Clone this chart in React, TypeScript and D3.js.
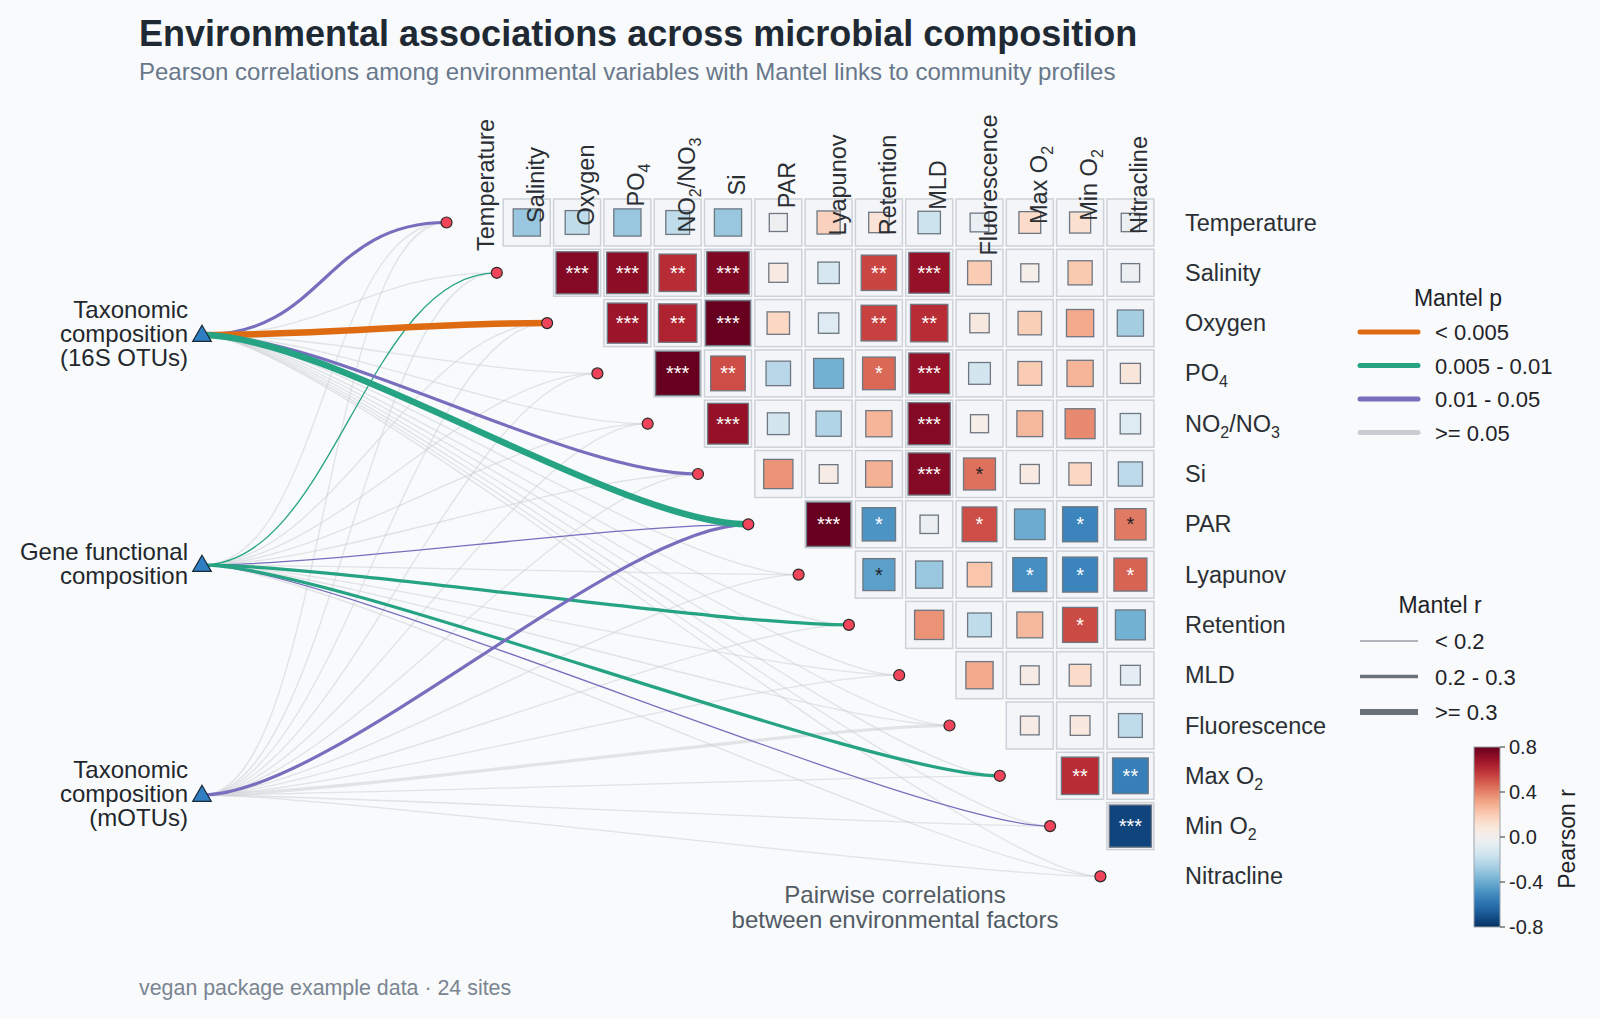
import React from "react";
import * as d3 from "d3";

// ---------------- DATA ----------------
const envVars = [
  "Temperature", "Salinity", "Oxygen", "PO4", "NO2/NO3", "Si", "PAR",
  "Lyapunov", "Retention", "MLD", "Fluorescence", "Max O2", "Min O2", "Nitracline",
];

// Upper triangle Pearson r: row i holds columns i+1 .. 13
const corrRows: number[][] = [
  [-0.3, -0.2, -0.3, -0.2, -0.3, -0.03, 0.18, 0.1, -0.16, -0.05, 0.14, 0.12, -0.04],
  [0.74, 0.72, 0.6, 0.75, 0.06, -0.13, 0.54, 0.7, 0.2, 0.03, 0.21, -0.04],
  [0.68, 0.63, 0.82, 0.16, -0.1, 0.55, 0.6, 0.07, 0.19, 0.3, -0.27],
  [0.8, 0.52, -0.22, -0.38, 0.46, 0.7, -0.14, 0.2, 0.27, 0.09],
  [0.7, -0.14, -0.24, 0.27, 0.74, 0.03, 0.26, 0.38, -0.1],
  [0.36, 0.05, 0.28, 0.74, 0.44, 0.06, 0.16, -0.21],
  [0.8, -0.48, -0.04, 0.52, -0.4, -0.53, 0.42],
  [-0.44, -0.3, 0.22, -0.5, -0.53, 0.47],
  [0.36, -0.2, 0.26, 0.53, -0.38],
  [0.3, 0.05, 0.14, -0.08],
  [0.05, 0.08, -0.2],
  [0.6, -0.55],
  [-0.74],
];

const sigRows: string[][] = [
  ["", "", "", "", "", "", "", "", "", "", "", "", ""],
  ["***", "***", "**", "***", "", "", "**", "***", "", "", "", ""],
  ["***", "**", "***", "", "", "**", "**", "", "", "", ""],
  ["***", "**", "", "", "*", "***", "", "", "", ""],
  ["***", "", "", "", "***", "", "", "", ""],
  ["", "", "", "***", "*", "", "", ""],
  ["***", "*", "", "*", "", "*", "*"],
  ["*", "", "", "*", "*", "*"],
  ["", "", "", "*", ""],
  ["", "", "", ""],
  ["", "", ""],
  ["**", "**"],
  ["***"],
];

const sourceNames = ["16S", "Gene", "mOTUs"];
const sourceLabels: string[][] = [
  ["Taxonomic", "composition", "(16S OTUs)"],
  ["Gene functional", "composition"],
  ["Taxonomic", "composition", "(mOTUs)"],
];

// Mantel statistics for each source against each environmental variable
const mantelR16S = [0.25, 0.12, 0.35, 0.1, 0.08, 0.26, 0.34, 0.1, 0.12, 0.1, 0.09, 0.1, 0.08, 0.06];
const mantelP16S = [0.02, 0.2, 0.003, 0.3, 0.4, 0.03, 0.007, 0.5, 0.3, 0.4, 0.6, 0.3, 0.5, 0.7];
const mantelRGene = [0.1, 0.15, 0.1, 0.1, 0.1, 0.1, 0.15, 0.1, 0.24, 0.1, 0.1, 0.22, 0.16, 0.1];
const mantelPGene = [0.2, 0.008, 0.3, 0.4, 0.5, 0.3, 0.03, 0.2, 0.006, 0.3, 0.2, 0.008, 0.04, 0.5];
const mantelRmOTU = [0.1, 0.1, 0.1, 0.1, 0.1, 0.1, 0.25, 0.1, 0.1, 0.1, 0.22, 0.1, 0.1, 0.1];
const mantelPmOTU = [0.3, 0.4, 0.3, 0.2, 0.5, 0.4, 0.02, 0.3, 0.4, 0.5, 0.1, 0.3, 0.2, 0.3];

const pLegend = ["< 0.005", "0.005 - 0.01", "0.01 - 0.05", ">= 0.05"];
const rLegend = ["< 0.2", "0.2 - 0.3", ">= 0.3"];
const colorTicks = [0.8, 0.4, 0.0, -0.4, -0.8];

// ---------------- STYLE ----------------
const FONT = "'Liberation Sans', Arial, Helvetica, sans-serif";
const BG = "#f8fafc";
const pColors = ["#de6a12", "#26a383", "#776fbd", "#c9cdd2"];
const rWidths = [1.3, 3.2, 6.5];

function pClass(p: number) {
  return p < 0.005 ? 0 : p < 0.01 ? 1 : p < 0.05 ? 2 : 3;
}
function rClass(r: number) {
  return r < 0.2 ? 0 : r < 0.3 ? 1 : 2;
}

const colorOf = (r: number) => d3.interpolateRdBu(Math.max(0, Math.min(1, (0.8 - r) / 1.6)));

function Label({ text, sub = 16 }: { text: string; sub?: number }) {
  const parts = text.split(/(\d)/).filter((s) => s !== "");
  let shifted = false;
  return (
    <>
      {parts.map((p, k) => {
        if (/^\d$/.test(p)) {
          shifted = true;
          return (
            <tspan key={k} fontSize={sub} dy={6}>
              {p}
            </tspan>
          );
        }
        const dy = shifted ? -6 : undefined;
        shifted = false;
        return (
          <tspan key={k} dy={dy}>
            {p}
          </tspan>
        );
      })}
    </>
  );
}

function link(x0: number, y0: number, x1: number, y1: number) {
  const dx = x1 - x0;
  const o = Math.min(dx * 0.5, 130);
  const p = d3.path();
  p.moveTo(x0, y0);
  p.bezierCurveTo(x0 + o, y0, x1 - o, y1, x1, y1);
  return p.toString();
}

export default function App() {
  const W = 1600;
  const H = 1018;
  const n = envVars.length;
  const pitch = 50.3;
  const x = d3.scaleLinear().domain([0, n - 1]).range([476.5, 476.5 + (n - 1) * pitch]);
  const y = d3.scaleLinear().domain([0, n - 1]).range([222.5, 222.5 + (n - 1) * pitch]);
  const outer = 47;
  const innerSize = d3.scaleLinear().domain([0, 1]).range([17, 51]);
  const srcY = d3.scalePoint<string>().domain(sourceNames).range([335, 795]);
  const srcX = 202;

  const mantel = [
    { src: "16S", r: mantelR16S, p: mantelP16S },
    { src: "Gene", r: mantelRGene, p: mantelPGene },
    { src: "mOTUs", r: mantelRmOTU, p: mantelPmOTU },
  ];
  const edges: { d: string; color: string; w: number; grey: boolean; order: number }[] = [];
  mantel.forEach((m) => {
    m.r.forEach((rv, i) => {
      const pc = pClass(m.p[i]);
      const rc = rClass(rv);
      edges.push({
        d: link(srcX, srcY(m.src)!, x(i) - 30, y(i)),
        color: pColors[pc],
        w: rWidths[rc],
        grey: pc === 3,
        order: (pc === 3 ? 0 : 10) + rc,
      });
    });
  });
  edges.sort((a, b) => a.order - b.order);

  const tri = d3.symbol(d3.symbolTriangle, 150)()!;

  const cbTop = 747;
  const cbBot = 927;
  const cbX = 1474;
  const cbW = 26;
  const cbScale = d3.scaleLinear().domain([-0.8, 0.8]).range([cbBot, cbTop]);
  const gradStops = d3.range(0, 1.0001, 0.05);

  return (
    <svg
      width={W}
      height={H}
      style={{ position: "absolute", left: 0, top: 0, display: "block" }}
      fontFamily={FONT}
    >
      <defs>
        <linearGradient id="cb" x1="0" y1="1" x2="0" y2="0">
          {gradStops.map((t, k) => (
            <stop key={k} offset={t} stopColor={colorOf(-0.8 + 1.6 * t)} />
          ))}
        </linearGradient>
      </defs>
      <rect width={W} height={H} fill={BG} />

      {/* Title */}
      <text x={139} y={46} fontSize={36} fontWeight="bold" fill="#1e2933">
        Environmental associations across microbial composition
      </text>
      <text x={139} y={80} fontSize={24} fill="#68778a">
        Pearson correlations among environmental variables with Mantel links to community profiles
      </text>

      {/* Edges */}
      <g fill="none" strokeLinecap="round">
        {edges.map((e, k) => (
          <path
            key={k}
            d={e.d}
            stroke={e.color}
            strokeWidth={e.w}
            strokeOpacity={e.grey ? 0.5 : 1}
          />
        ))}
      </g>

      {/* Matrix cells */}
      <g>
        {corrRows.map((row, i) =>
          row.map((rv, k) => {
            const j = i + 1 + k;
            const cx = x(j);
            const cy = y(i);
            const s = innerSize(Math.abs(rv));
            const sig = sigRows[i][k];
            return (
              <g key={`${i}-${j}`}>
                <rect
                  x={cx - outer / 2}
                  y={cy - outer / 2}
                  width={outer}
                  height={outer}
                  fill="#f3f5f8"
                  stroke="#cdd2d8"
                  strokeWidth={1.5}
                />
                <rect
                  x={cx - s / 2}
                  y={cy - s / 2}
                  width={s}
                  height={s}
                  fill={colorOf(rv)}
                  stroke="#6e7782"
                  strokeWidth={1.3}
                />
                {sig && (
                  <text
                    x={cx}
                    y={cy + 7}
                    textAnchor="middle"
                    fontSize={20}
                    fill={Math.abs(rv) >= 0.45 ? "#ffffff" : "#1f2328"}
                  >
                    {sig}
                  </text>
                )}
              </g>
            );
          })
        )}
      </g>

      {/* Column labels */}
      <g fontSize={23.5} fill="#2b2f34">
        {envVars.map((v, j) => (
          <text
            key={v}
            transform={`translate(${x(j) + 17},185) rotate(-90)`}
            textAnchor="middle"
          >
            <Label text={v} />
          </text>
        ))}
      </g>

      {/* Row labels */}
      <g fontSize={23.5} fill="#2b2f34">
        {envVars.map((v, i) => (
          <text key={v} x={1185} y={y(i) + 8}>
            <Label text={v} />
          </text>
        ))}
      </g>

      {/* Env nodes */}
      <g>
        {envVars.map((v, i) => (
          <circle
            key={v}
            cx={x(i) - 30}
            cy={y(i)}
            r={5.5}
            fill="#f0445a"
            stroke="#2a2a2a"
            strokeWidth={1.2}
          />
        ))}
      </g>

      {/* Source nodes */}
      <g>
        {sourceNames.map((s, k) => {
          const yc = srcY(s)!;
          const lines = sourceLabels[k];
          return (
            <g key={s}>
              <path
                d={tri}
                transform={`translate(${srcX},${yc + 1})`}
                fill="#2f7ec1"
                stroke="#1b2a3a"
                strokeWidth={1.2}
              />
              {lines.map((ln, li) => (
                <text
                  key={li}
                  x={188}
                  y={yc + (li - (lines.length - 1) / 2) * 24 + 7}
                  textAnchor="end"
                  fontSize={24}
                  fill="#23272c"
                >
                  {ln}
                </text>
              ))}
            </g>
          );
        })}
      </g>

      {/* Matrix caption */}
      <g fontSize={24} fill="#525a64" textAnchor="middle">
        <text x={895} y={903}>Pairwise correlations</text>
        <text x={895} y={928}>between environmental factors</text>
      </g>

      {/* Legend: Mantel p */}
      <g fontSize={22} fill="#1f2328">
        <text x={1458} y={306} textAnchor="middle" fontSize={23}>
          Mantel p
        </text>
        {pLegend.map((lab, k) => {
          const ly = 332 + k * 33.5;
          return (
            <g key={lab}>
              <line
                x1={1360}
                x2={1418}
                y1={ly}
                y2={ly}
                stroke={pColors[k]}
                strokeWidth={5}
                strokeLinecap="round"
              />
              <text x={1435} y={ly + 8}>
                {lab}
              </text>
            </g>
          );
        })}
      </g>

      {/* Legend: Mantel r */}
      <g fontSize={22} fill="#1f2328">
        <text x={1440} y={613} textAnchor="middle" fontSize={23}>
          Mantel r
        </text>
        {rLegend.map((lab, k) => {
          const ly = 641 + k * 35.5;
          return (
            <g key={lab}>
              <line x1={1360} x2={1418} y1={ly} y2={ly} stroke="#6b717a" strokeWidth={[1.2, 3.3, 6][k]} />
              <text x={1435} y={ly + 8}>
                {lab}
              </text>
            </g>
          );
        })}
      </g>

      {/* Colorbar */}
      <g>
        <rect x={cbX} y={cbTop} width={cbW} height={cbBot - cbTop} fill="url(#cb)" stroke="#9aa3ad" strokeWidth={1} />
        {colorTicks.map((t) => (
          <g key={t}>
            <line x1={cbX + cbW} x2={cbX + cbW + 5} y1={cbScale(t)} y2={cbScale(t)} stroke="#333" strokeWidth={1} />
            <text x={cbX + cbW + 9} y={cbScale(t) + 7} fontSize={20} fill="#1f2328">
              {t.toFixed(1)}
            </text>
          </g>
        ))}
        <text
          transform={`translate(1575,839) rotate(-90)`}
          textAnchor="middle"
          fontSize={23}
          fill="#1f2328"
        >
          Pearson r
        </text>
      </g>

      {/* Footer */}
      <text x={139} y={995} fontSize={21.4} fill="#7a8591">
        vegan package example data · 24 sites
      </text>
    </svg>
  );
}
